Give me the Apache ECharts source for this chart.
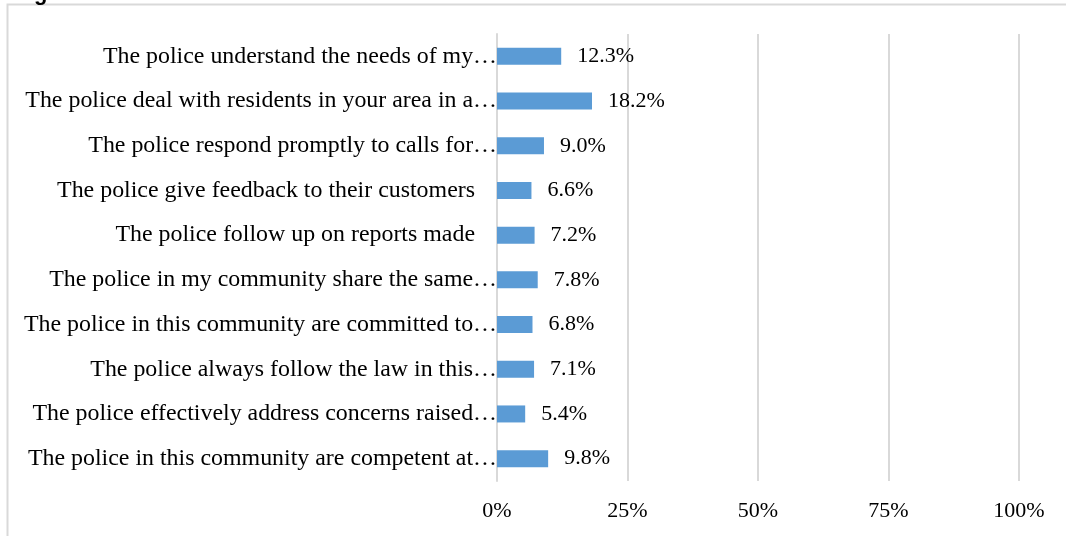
<!DOCTYPE html>
<html>
<head>
<meta charset="utf-8">
<script src="https://cdn.jsdelivr.net/npm/echarts@6/dist/echarts.min.js"></script>
<style>
  html, body { margin: 0; padding: 0; background: #fff; }
  #chart { width: 1066px; height: 536px; }
</style>
</head>
<body>
<div id="chart"></div>
<script>
// Statements, listed top to bottom as they appear
const statements = [
  'The police understand the needs of my\u2026',
  'The police deal with residents in your area in a\u2026',
  'The police respond promptly to calls for\u2026',
  'The police give feedback to their customers',
  'The police follow up on reports made',
  'The police in my community share the same\u2026',
  'The police in this community are committed to\u2026',
  'The police always follow the law in this\u2026',
  'The police effectively address concerns raised\u2026',
  'The police in this community are competent at\u2026'
];
// Share of respondents (%)
const shares = [12.3, 18.2, 9.0, 6.6, 7.2, 7.8, 6.8, 7.1, 5.4, 9.8];
// Value axis ticks (%)
const axisTicks = [0, 25, 50, 75, 100];

const serif = '"Liberation Serif", "Times New Roman", serif';
const catSize = 23.9;
const chart = echarts.init(document.getElementById('chart'));

chart.setOption({
  animation: false,
  backgroundColor: '#ffffff',
  graphic: [
    {
      type: 'rect',
      shape: { x: 7.5, y: 4.5, width: 1200, height: 700 },
      style: { fill: 'none', stroke: '#d9d9d9', lineWidth: 2 },
      silent: true
    },
    {
      type: 'text',
      x: 34, y: -17,
      style: { text: 'g', font: 'bold 22px "Liberation Sans", Arial, sans-serif', fill: '#000' },
      silent: true
    }
  ],
  grid: { left: 497, right: 47, top: 34, bottom: 55, containLabel: false },
  xAxis: {
    type: 'value',
    min: axisTicks[0],
    max: axisTicks[axisTicks.length - 1],
    interval: axisTicks[1] - axisTicks[0],
    axisLine: { show: false },
    axisTick: { show: false },
    splitLine: { show: true, lineStyle: { color: '#d9d9d9', width: 2 } },
    axisLabel: {
      margin: 19,
      color: '#000',
      fontFamily: serif,
      fontSize: 22,
      formatter: v => v + '%'
    }
  },
  yAxis: {
    type: 'category',
    inverse: true,
    data: statements,
    axisLine: { show: true, lineStyle: { color: '#d9d9d9', width: 2 } },
    axisTick: { show: false },
    axisLabel: {
      margin: 0,
      color: '#000',
      fontFamily: serif,
      fontSize: catSize,
      formatter: s => s.endsWith('\u2026') ? '{t|' + s + '}' : '{p|' + s + '}',
      rich: {
        t: { fontFamily: serif, fontSize: catSize, color: '#000' },
        p: { fontFamily: serif, fontSize: catSize, color: '#000', padding: [0, 22, 0, 0] }
      }
    }
  },
  series: [{
    type: 'bar',
    data: shares,
    barWidth: 17,
    itemStyle: { color: '#5b9bd5' },
    label: {
      show: true,
      position: 'right',
      distance: 16,
      color: '#000',
      fontFamily: serif,
      fontSize: 22,
      formatter: p => p.value.toFixed(1) + '%'
    }
  }]
});
</script>
</body>
</html>
